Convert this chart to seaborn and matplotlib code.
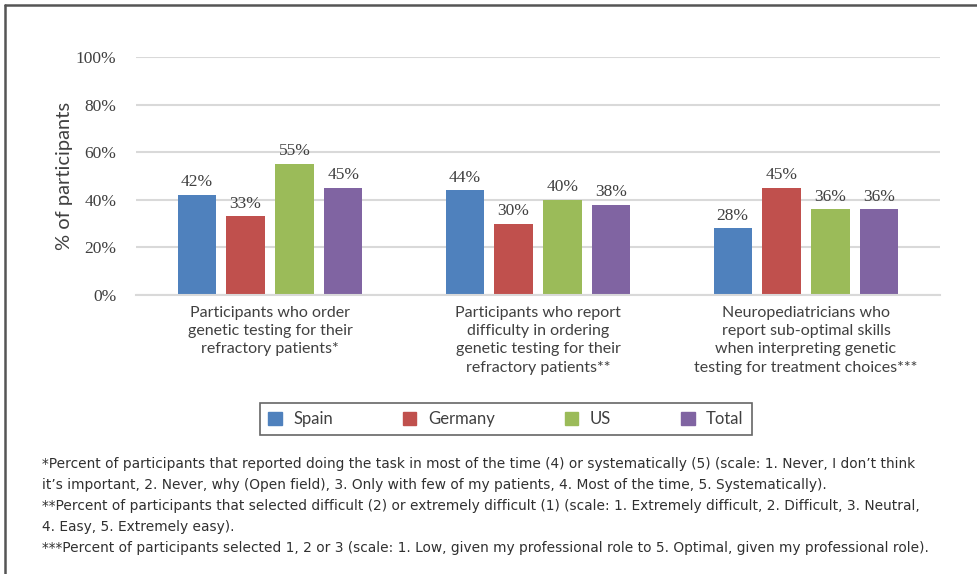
import matplotlib
matplotlib.use('Agg')
import matplotlib.pyplot as plt
from matplotlib.lines import Line2D
import seaborn as sns
import pandas as pd

categories = [
    'Participants who order\ngenetic testing for their\nrefractory patients*',
    'Participants who report\ndifficulty in ordering\ngenetic testing for their\nrefractory patients**',
    'Neuropediatricians who\nreport sub-optimal skills\nwhen interpreting genetic\ntesting for treatment choices***',
]
groups = ['Spain', 'Germany', 'US', 'Total']
spain = [42, 44, 28]
germany = [33, 30, 45]
us = [55, 40, 36]
total = [45, 38, 36]
yticks = [0, 20, 40, 60, 80, 100]
footnotes = [
    "*Percent of participants that reported doing the task in most of the time (4) or systematically (5) (scale: 1. Never, I don\u2019t think",
    "it\u2019s important, 2. Never, why (Open field), 3. Only with few of my patients, 4. Most of the time, 5. Systematically).",
    "**Percent of participants that selected difficult (2) or extremely difficult (1) (scale: 1. Extremely difficult, 2. Difficult, 3. Neutral,",
    "4. Easy, 5. Extremely easy).",
    "***Percent of participants selected 1, 2 or 3 (scale: 1. Low, given my professional role to 5. Optimal, given my professional role).",
]
colors = ['#4F81BD', '#C0504D', '#9BBB59', '#8064A2']

rows = []
for name, vals in zip(groups, [spain, germany, us, total]):
    for cat, v in zip(categories, vals):
        rows.append({'category': cat, 'group': name, 'value': v})
df = pd.DataFrame(rows)

sns.set_style('white')
sans = ['Lato', 'DejaVu Sans']
serif = ['Liberation Serif', 'DejaVu Serif']
plt.rcParams['font.family'] = sans

fig = plt.figure(figsize=(9.78, 5.74), dpi=100)
W, H = 978, 574
ax = fig.add_axes([136 / W, 1 - 295 / H, 804 / W, 238 / H])

sns.barplot(data=df, x='category', y='value', hue='group', hue_order=groups,
            order=categories, palette=colors, width=0.73, gap=0.22,
            saturation=1, linewidth=0, ax=ax, legend=False)

for cont in ax.containers:
    for bar in cont:
        h = bar.get_height()
        ax.text(bar.get_x() + bar.get_width() / 2, h + 2, f'{h:.0f}%',
                ha='center', va='bottom', fontsize=12.5, color='#404040', family=serif)

ax.set_ylim(0, 100)
ax.set_xlim(-0.5, 2.5)
ax.set_yticks(yticks)
ax.set_yticklabels([f'{t}%' for t in yticks], family=serif, fontsize=12.5, color='#404040')
ax.yaxis.grid(True, color='#d9d9d9', linewidth=1.5)
ax.set_axisbelow(True)
for s in ['top', 'right', 'left']:
    ax.spines[s].set_visible(False)
ax.spines['bottom'].set_color('#d9d9d9')
ax.spines['bottom'].set_linewidth(1.5)
ax.tick_params(axis='y', length=0, pad=14)
ax.tick_params(axis='x', length=0, pad=8)
ax.set_xticks(range(3))
ax.set_xticklabels(categories, fontsize=11.5, color='#404040', linespacing=1.38, va='top')
ax.set_xlabel('')
ax.set_ylabel('% of participants', fontsize=14.5, color='#404040', labelpad=2)

handles = [plt.Rectangle((0, 0), 1, 1, color=c) for c in colors]
leg = fig.legend(handles, groups, loc='center', bbox_to_anchor=(506 / W, 1 - 419 / H),
                 ncol=4, frameon=True, fancybox=False, edgecolor='#404040',
                 fontsize=12, handlelength=0.8, handleheight=0.8, handletextpad=0.7,
                 columnspacing=4.2, borderpad=0.5, borderaxespad=0)
leg.get_frame().set_linewidth(1.2)
for t in leg.get_texts():
    t.set_color('#404040')

y0 = 464
for i, line in enumerate(footnotes):
    fig.text(42 / W, 1 - (y0 + i * 21) / H, line, fontsize=9.9, color='#303030',
             va='center', ha='left', family=['Liberation Sans Narrow', 'DejaVu Sans'])

fig.add_artist(Line2D([5 / W, 5 / W], [0, 1 - 5 / H], color='#555555', linewidth=1.8))
fig.add_artist(Line2D([5 / W, 1], [1 - 5 / H, 1 - 5 / H], color='#555555', linewidth=1.8))

fig.savefig('out.png', dpi=100, facecolor='white')
